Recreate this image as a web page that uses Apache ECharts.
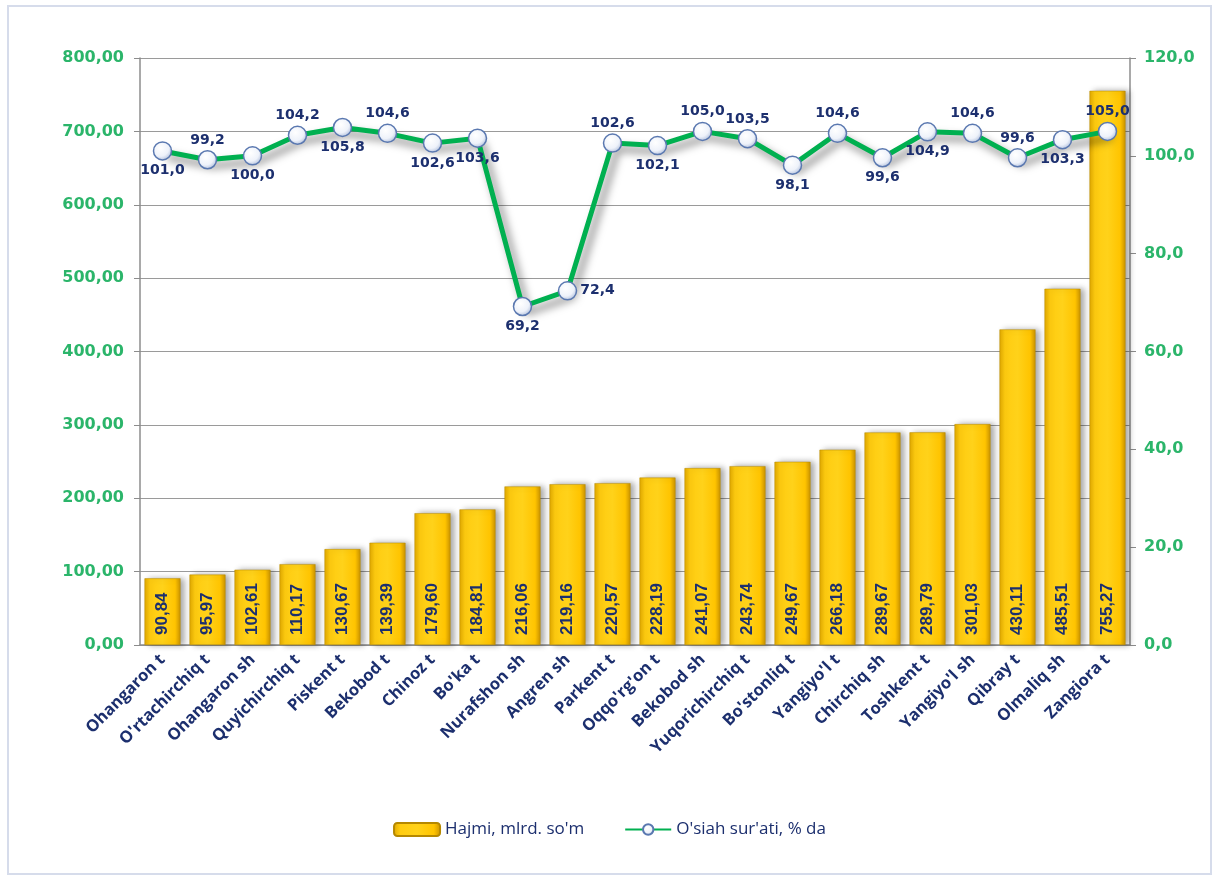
<!DOCTYPE html>
<html lang="en">
	<head>
		<meta charset="UTF-8" />
		<title>Hajmi va o'sish sur'ati</title>
		<style>
			html, body { margin: 0; padding: 0; background: #ffffff; }
			#chart { width: 1219px; height: 879px; }
		</style>
	</head>
	<body>
		<div id="chart"></div>
		<script src="https://cdn.jsdelivr.net/npm/echarts@6/dist/echarts.min.js"></script>
		<script>
			const districts = [
				"Ohangaron t", "O'rtachirchiq t", "Ohangaron sh", "Quyichirchiq t", "Piskent t",
				"Bekobod t", "Chinoz t", "Bo'ka t", "Nurafshon sh", "Angren sh", "Parkent t",
				"Oqqo'rg'on t", "Bekobod sh", "Yuqorichirchiq t", "Bo'stonliq t", "Yangiyo'l t",
				"Chirchiq sh", "Toshkent t", "Yangiyo'l sh", "Qibray t", "Olmaliq sh", "Zangiora t"
			];
			const volume = [
				90.84, 95.97, 102.61, 110.17, 130.67, 139.39, 179.60, 184.81, 216.06, 219.16, 220.57,
				228.19, 241.07, 243.74, 249.67, 266.18, 289.67, 289.79, 301.03, 430.11, 485.51, 755.27
			];
			const growth = [
				101.0, 99.2, 100.0, 104.2, 105.8, 104.6, 102.6, 103.6, 69.2, 72.4, 102.6,
				102.1, 105.0, 103.5, 98.1, 104.6, 99.6, 104.9, 104.6, 99.6, 103.3, 105.0
			];
			// where each growth label sits relative to its point
			const growthLabelPos = [
				"bottom", "top", "bottom", "top", "bottom", "top", "bottom", "bottom", "bottom", "right", "top",
				"bottom", "top", "top", "bottom", "top", "bottom", "bottom", "top", "top", "bottom", "top"
			];

			const green = "#2bb56a";
			const navy = "#1c2f6e";
			const comma = (v, d) => v.toFixed(d).replace(".", ",");

			const chart = echarts.init(document.getElementById("chart"));

			chart.setOption({
				backgroundColor: "#ffffff",
				animation: false,
				graphic: [
					{
						type: "rect",
						shape: { x: 8, y: 6, width: 1203, height: 868 },
						style: { fill: "none", stroke: "#d6dceb", lineWidth: 2 }
					}
				],
				legend: {
					bottom: 36,
					left: "center",
					itemGap: 40,
					itemWidth: 46,
					itemHeight: 13,
					textStyle: { color: navy, fontSize: 17, fontFamily: "Open Sans" },
					data: ["Hajmi, mlrd. so'm", "O'siah sur'ati, % da"]
				},
				grid: { left: 140, right: 89, top: 58, bottom: 234 },
				xAxis: {
					type: "category",
					data: districts,
					axisLine: { lineStyle: { color: "#8c8c8c", width: 1.5 } },
					axisTick: { length: 6, lineStyle: { color: "#8c8c8c" } },
					axisLabel: {
						rotate: 45,
						interval: 0,
						color: navy,
						fontSize: 16.5,
						fontWeight: "bold",
						fontFamily: "Open Sans",
						margin: 12
					}
				},
				yAxis: [
					{
						type: "value",
						min: 0,
						max: 800,
						interval: 100,
						axisLine: { show: true, lineStyle: { color: "#8c8c8c", width: 1.5 } },
						axisTick: { show: true, length: 6, lineStyle: { color: "#8c8c8c" } },
						splitLine: { lineStyle: { color: "#9a9a9a", width: 1.2 } },
						axisLabel: {
							color: green,
							fontSize: 16,
							fontWeight: "bold",
							fontFamily: "DejaVu Sans",
							margin: 16,
							formatter: (v) => comma(v, 2)
						}
					},
					{
						type: "value",
						min: 0,
						max: 120,
						interval: 20,
						axisLine: { show: true, lineStyle: { color: "#8c8c8c", width: 1.5 } },
						axisTick: { show: true, length: 6, lineStyle: { color: "#8c8c8c" } },
						splitLine: { show: false },
						axisLabel: {
							color: green,
							fontSize: 16,
							fontWeight: "bold",
							fontFamily: "DejaVu Sans",
							margin: 14,
							formatter: (v) => comma(v, 1)
						}
					}
				],
				series: [
					{
						name: "Hajmi, mlrd. so'm",
						type: "bar",
						yAxisIndex: 0,
						data: volume,
						barWidth: 36,
						itemStyle: {
							color: new echarts.graphic.LinearGradient(0, 0, 1, 0, [
								{ offset: 0, color: "#e0a800" },
								{ offset: 0.15, color: "#ffcc10" },
								{ offset: 0.5, color: "#ffd21a" },
								{ offset: 0.85, color: "#ffc400" },
								{ offset: 1, color: "#c99200" }
							]),
							borderColor: "#b58800",
							borderWidth: 0.5,
							shadowColor: "rgba(0,0,0,0.35)",
							shadowBlur: 6,
							shadowOffsetX: 4,
							shadowOffsetY: 0
						},
						label: {
							show: true,
							position: "insideBottom",
							rotate: 90,
							align: "left",
							verticalAlign: "middle",
							distance: 10,
							color: navy,
							fontSize: 17,
							fontWeight: "bold",
							fontFamily: "Liberation Sans",
							formatter: (p) => comma(p.value, 2)
						},
						z: 2
					},
					{
						name: "O'siah sur'ati, % da",
						type: "line",
						yAxisIndex: 1,
						data: growth.map((v, i) => ({
							value: v,
							label: { position: growthLabelPos[i] }
						})),
						symbol: "circle",
						symbolSize: 18,
						lineStyle: {
							color: "#00b050",
							width: 5,
							shadowColor: "rgba(0,0,0,0.5)",
							shadowBlur: 9,
							shadowOffsetX: 5,
							shadowOffsetY: 6
						},
						itemStyle: {
							color: new echarts.graphic.RadialGradient(0.4, 0.35, 0.7, [
								{ offset: 0, color: "#ffffff" },
								{ offset: 0.6, color: "#eef2fa" },
								{ offset: 1, color: "#a8b8d8" }
							]),
							borderColor: "#5a78b0",
							borderWidth: 1.5
						},
						label: {
							show: true,
							distance: 3,
							color: navy,
							fontSize: 14,
							fontWeight: "bold",
							fontFamily: "DejaVu Sans",
							formatter: (p) => comma(p.value, 1)
						},
						z: 3
					}
				]
			});
		</script>
	</body>
</html>
